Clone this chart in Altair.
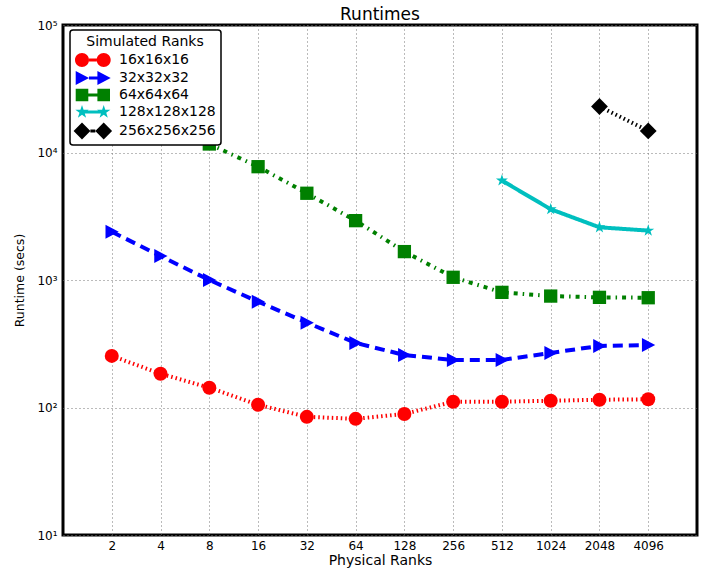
import altair as alt
import pandas as pd

# ---------------- data ----------------
ranks = [2, 4, 8, 16, 32, 64, 128, 256, 512, 1024, 2048, 4096]
series_names = ["16x16x16", "32x32x32", "64x64x64", "128x128x128", "256x256x256"]
runtime_16 = [254, 184, 143, 105, 84.5, 81.5, 89, 111, 111, 113, 115, 116]
runtime_32 = [2390, 1540, 1000, 676, 463, 321, 258, 236, 236, 268, 304, 309]
runtime_64 = [None, None, 11660, 7740, 4790, 2920, 1670, 1050, 800, 748, 731, 726]
runtime_128 = [None] * 8 + [6030, 3590, 2590, 2440]
runtime_256 = [None] * 10 + [22960, 14770]
y_ticks = [10, 100, 1000, 10000, 100000]

series_values = [runtime_16, runtime_32, runtime_64, runtime_128, runtime_256]
rows = []
for name, vals in zip(series_names, series_values):
    for r, v in zip(ranks, vals):
        if v is not None:
            rows.append({"ranks": r, "runtime": v, "series": name})
df = pd.DataFrame(rows)

# ---------------- styles ----------------
colors = ["#ff0000", "#0000ff", "#008000", "#00bfbf", "#000000"]
dashes = [[1.5, 3], [10, 6], [4, 5, 1.5, 5], [1, 0], [1.5, 3]]

star = ("M0,-0.9 L0.202,-0.278 L0.856,-0.278 L0.327,0.106 L0.529,0.728 "
        "L0,0.344 L-0.529,0.728 L-0.327,0.106 L-0.856,-0.278 L-0.202,-0.278 Z")
point_shapes = [
    "circle",
    "M-0.9,-1 L1,0 L-0.9,1 Z",
    "M-0.95,-0.95 L0.95,-0.95 L0.95,0.95 L-0.95,0.95 Z",
    star,
    "M0,-1.2 L1.2,0 L0,1.2 L-1.2,0 Z",
]


def star_at(cx, r=1.0):
    pts = [(0, -1), (0.2245, -0.309), (0.951, -0.309), (0.363, 0.118), (0.588, 0.809),
           (0, 0.382), (-0.588, 0.809), (-0.363, 0.118), (-0.951, -0.309), (-0.2245, -0.309)]
    return "M" + " L".join(f"{cx + x * r:.3f},{y * r:.3f}" for x, y in pts) + " Z"


legend_shapes = [
    "M-1,0 A1,1 0 1,1 1,0 A1,1 0 1,1 -1,0 Z M2.1,0 A1,1 0 1,1 4.1,0 A1,1 0 1,1 2.1,0 Z "
    "M1,-0.22 L2.1,-0.22 L2.1,0.22 L1,0.22 Z",
    "M-0.9,-1 L1,0 L-0.9,1 Z M2.2,-1 L4.1,0 L2.2,1 Z M1,-0.22 L2.2,-0.22 L2.2,0.22 L1,0.22 Z",
    "M-0.9,-0.9 L0.9,-0.9 L0.9,0.9 L-0.9,0.9 Z M2.2,-0.9 L4.0,-0.9 L4.0,0.9 L2.2,0.9 Z "
    "M0.9,-0.22 L2.2,-0.22 L2.2,0.22 L0.9,0.22 Z",
    star_at(0) + " " + star_at(3.1) + " M0,-0.22 L3.1,-0.22 L3.1,0.22 L0,0.22 Z",
    "M0,-1.2 L1.2,0 L0,1.2 L-1.2,0 Z M3.1,-1.2 L4.3,0 L3.1,1.2 L1.9,0 Z "
    "M1.2,-0.22 L1.9,-0.22 L1.9,0.22 L1.2,0.22 Z",
]

FONT = "DejaVu Sans"

x_enc = alt.X(
    "ranks:Q",
    scale=alt.Scale(type="log", base=2, domain=[1, 8192], nice=False),
    axis=alt.Axis(values=ranks, format="d", title="Physical Ranks",
                  labelFontSize=12, titleFontSize=14, labelPadding=5, titlePadding=2),
)
y_enc = alt.Y(
    "runtime:Q",
    scale=alt.Scale(type="log", domain=[10, 100000], nice=False),
    axis=alt.Axis(values=y_ticks, title="Runtime (secs)",
                  labelExpr="'10' + ['\u2070','\u00b9','\u00b2','\u00b3','\u2074','\u2075'][round(log(datum.value)/LN10)]",
                  labelFontSize=12, titleFontSize=12.5, labelPadding=6, titlePadding=10),
)

color_scale = alt.Scale(domain=series_names, range=colors)

base = alt.Chart(df)

lines = base.mark_line(strokeWidth=4, strokeCap="butt").encode(
    x=x_enc, y=y_enc,
    color=alt.Color("series:N", scale=color_scale, legend=None),
    strokeDash=alt.StrokeDash("series:N", scale=alt.Scale(domain=series_names, range=dashes), legend=None),
)

points = base.mark_point(filled=True, size=196, opacity=1, strokeWidth=0).encode(
    x=x_enc, y=y_enc,
    color=alt.Color("series:N", scale=color_scale, legend=None),
    shape=alt.Shape("series:N", scale=alt.Scale(domain=series_names, range=point_shapes), legend=None),
)

legend_layer = base.transform_filter("false").mark_point(filled=True, size=196, opacity=1, strokeWidth=0).encode(
    x=x_enc, y=y_enc,
    color=alt.Color("series:N", scale=color_scale, title="Simulated Ranks",
                    legend=alt.Legend(orient="none", legendX=7, legendY=5)),
    shape=alt.Shape("series:N", scale=alt.Scale(domain=series_names, range=legend_shapes),
                    title="Simulated Ranks",
                    legend=alt.Legend(orient="none", legendX=7, legendY=5)),
)

chart = (
    alt.layer(lines, points, legend_layer)
    .resolve_scale(color="independent", shape="independent")
    .properties(
        width=634,
        height=510,
        title=alt.TitleParams("Runtimes", fontSize=17, fontWeight="normal", font=FONT,
                              color="black", offset=5, frame="group", dy=10),
        autosize=alt.AutoSizeParams(type="none"),
        padding={"left": 63, "top": 25, "right": 6, "bottom": 33},
    )
    .configure_view(stroke="black", strokeWidth=3)
    .configure_axis(
        labelFont=FONT, titleFont=FONT, labelColor="black", titleColor="black",
        titleFontWeight="normal", domain=False, ticks=False,
        grid=True, gridDash=[1, 3], gridColor="#777777", gridWidth=1, gridOpacity=1,
    )
    .configure_legend(
        titleFont=FONT, labelFont=FONT, titleFontSize=14, titleFontWeight="normal",
        labelFontSize=14, titleColor="black", labelColor="black", titleAnchor="middle",
        symbolSize=196, symbolStrokeWidth=0, symbolOpacity=1, labelOffset=30,
        rowPadding=3, padding=5, strokeColor="black", fillColor="white",
        cornerRadius=3, titlePadding=4, strokeWidth=1.5,
    )
)

chart.save("out.html", embed_options={"renderer": "svg", "actions": False})
